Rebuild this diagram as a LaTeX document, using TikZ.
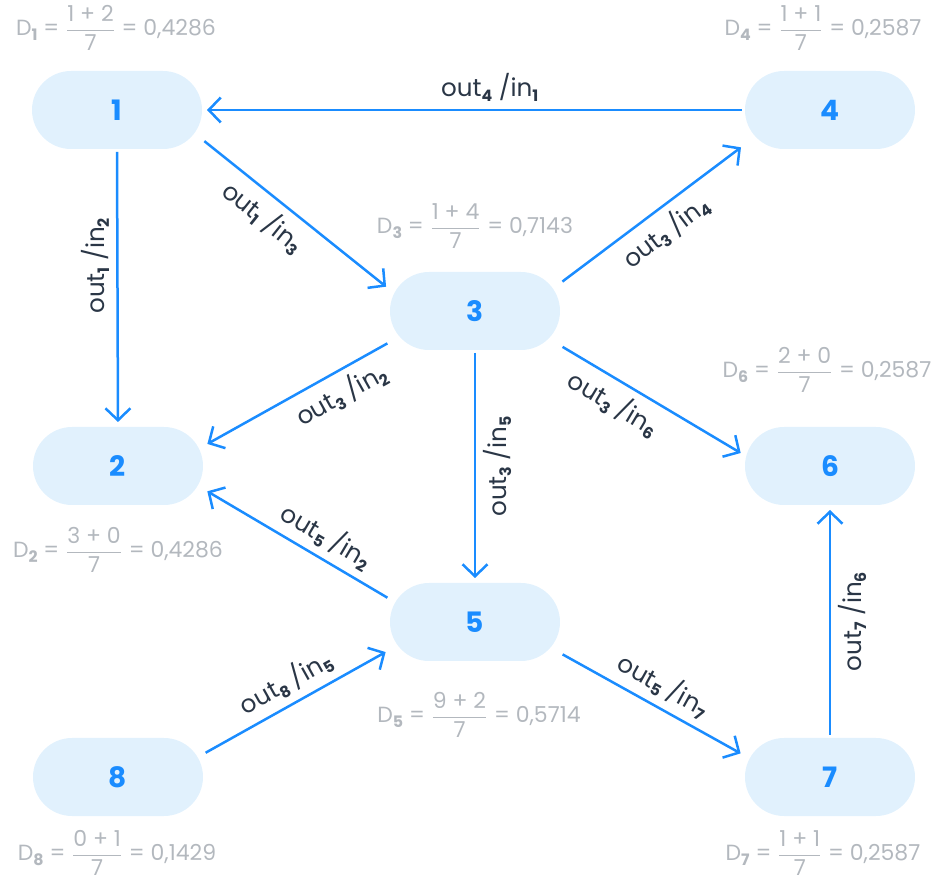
\documentclass[tikz,border=0pt]{standalone}
\usepackage{fontspec}
\usepackage{amsmath}
\setmainfont{Poppins}
\usetikzlibrary{arrows.meta}

\definecolor{cblue}{HTML}{1A8CFF}
\definecolor{cfill}{HTML}{E1F1FD}
\definecolor{cdark}{HTML}{2A3646}
\definecolor{cgrey}{HTML}{B3B8BE}

\tikzstyle{state} = [fill=cfill, text=cblue, rounded corners=7.8mm, minimum width=34mm, minimum height=15.6mm, inner sep=0pt, outer sep=0pt, font=\fontsize{16}{16}\selectfont\bfseries]
\tikzstyle{link}  = [draw=cblue, line width=0.5mm, -{Straight Barb[length=2.4mm,width=5mm]}, shorten <=0.6mm, shorten >=1mm]
\tikzstyle{io}    = [text=cdark, font=\fontsize{14}{16}\selectfont, inner sep=4pt]
\tikzstyle{dval}  = [text=cgrey, font=\fontsize{12.5}{15}\selectfont, inner sep=0pt]

\newcommand\sub[1]{\raisebox{-0.35ex}{\fontsize{9}{10}\selectfont\bfseries #1}}
\newcommand\io[2]{out\sub{#1} /in\sub{#2}}
\newcommand\dv[3]{D\sub{#1} = $\dfrac{\mbox{#2}}{\mbox{7}}$ = #3}

\begin{document}
\begin{tikzpicture}[x=0.2mm,y=-0.2mm]
  \useasboundingbox (0,0) rectangle (933,879);

  % states
  \node[state] (n1) at (117,110) {1};
  \node[state] (n4) at (830,110) {4};
  \node[state] (n3) at (475,311) {3};
  \node[state] (n2) at (118,466) {2};
  \node[state] (n6) at (830,466) {6};
  \node[state] (n5) at (475,622) {5};
  \node[state] (n8) at (118,777) {8};
  \node[state] (n7) at (830,777) {7};

  % weights
  \node[dval] (d1) at (116,28)  {\dv{1}{1 + 2}{0,4286}};
  \node[dval] (d4) at (823,28)  {\dv{4}{1 + 1}{0,2587}};
  \node[dval] (d3) at (475,226) {\dv{3}{1 + 4}{0,7143}};
  \node[dval] (d6) at (827,370) {\dv{6}{2 + 0}{0,2587}};
  \node[dval] (d2) at (118,550) {\dv{2}{3 + 0}{0,4286}};
  \node[dval] (d5) at (479,715) {\dv{5}{9 + 2}{0,5714}};
  \node[dval] (d8) at (117,853) {\dv{8}{0 + 1}{0,1429}};
  \node[dval] (d7) at (823,853) {\dv{7}{1 + 1}{0,2587}};

  % links
  \draw[link] (n4.west) -- node[io, above, pos=.47] {\io{4}{1}} (n1.east);
  \draw[link] (n1.south) -- node[io, above, rotate=90, pos=.42] {\io{1}{2}} (n2.north);
  \draw[link] (n1.-19) -- node[io, below, sloped, pos=.4] {\io{1}{3}} (n3.166);
  \draw[link] (n3.18) -- node[io, below, sloped] {\io{3}{4}} (n4.202);
  \draw[link] (n3.200) -- node[io, below, sloped, pos=.32] {\io{3}{2}} (n2.13);
  \draw[link] (n3.south) -- node[io, below, rotate=90] {\io{3}{5}} (n5.north);
  \draw[link] (n3.-22) -- node[io, below, sloped, pos=.35] {\io{3}{6}} (n6.173);
  \draw[link] (n5.165) -- node[io, above, sloped, pos=.4] {\io{5}{2}} (n2.-15);
  \draw[link] (n8.15) -- node[io, above, sloped] {\io{8}{5}} (n5.198);
  \draw[link] (n5.-20) -- node[io, above, sloped] {\io{5}{7}} (n7.166);
  \draw[link] (n7.north) -- node[io, below, rotate=90] {\io{7}{6}} (n6.south);
\end{tikzpicture}
\end{document}
